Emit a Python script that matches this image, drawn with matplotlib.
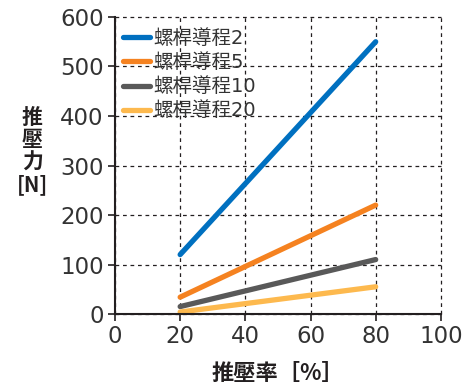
import matplotlib
matplotlib.use("Agg")
import matplotlib.pyplot as plt

plt.rcParams['font.family'] = ['DejaVu Sans', 'Noto Sans CJK JP']

x_vals = [20, 80]
series_names = ['螺桿導程2', '螺桿導程5', '螺桿導程10', '螺桿導程20']
series_values = [
    [120, 550],
    [34, 220],
    [15, 110],
    [4, 55],
]
colors = ['#0070C0', '#F58220', '#595959', '#FDB94E']
x_ticks = [0, 20, 40, 60, 80, 100]
y_ticks = [0, 100, 200, 300, 400, 500, 600]
x_label = '推壓率［%］'
y_label = '推\n壓\n力\n[N]'

fig = plt.figure(figsize=(4.72, 3.88), dpi=100)
ax = fig.add_axes([0.2436, 0.1907, 0.6904, 0.7655])

for name, vals, c in zip(series_names, series_values, colors):
    ax.plot(x_vals, vals, color=c, lw=3.8, solid_capstyle='round', label=name)

ax.set_xlim(0, 100)
ax.set_ylim(0, 600)
ax.set_xticks(x_ticks)
ax.set_yticks(y_ticks)
ax.tick_params(direction='out', length=5, width=1.2, labelsize=16.5, colors='#231f20', pad=3)
for lab in ax.get_xticklabels() + ax.get_yticklabels():
    lab.set_color('#333333')
ax.grid(True, linestyle=(0, (3, 3)), color='#231f20', lw=0.9)
for gl in ax.get_xgridlines() + ax.get_ygridlines():
    gl.set_clip_on(False)
for s in ['top', 'right']:
    ax.spines[s].set_visible(False)
for s in ['left', 'bottom']:
    ax.spines[s].set_linewidth(1.5)
    ax.spines[s].set_color('#231f20')
ax.set_axisbelow(True)

ax.set_xlabel(x_label, fontsize=16, fontweight='semibold', color='#231f20', labelpad=10,
              family=['Noto Sans CJK JP', 'DejaVu Sans'])
fig.text(0.068, 0.611, y_label, fontsize=15, fontweight='semibold', color='#231f20',
         ha='center', va='center', linespacing=1.08,
         family=['Noto Sans CJK JP', 'DejaVu Sans'])

leg = ax.legend(loc='upper left', frameon=False, fontsize=14, handlelength=1.4,
                handletextpad=0.15, labelspacing=0.26, borderaxespad=0.0, borderpad=0.2,
                bbox_to_anchor=(0.012, 0.972))
for t in leg.get_texts():
    t.set_color('#333333')

fig.savefig('out.png', dpi=100)
